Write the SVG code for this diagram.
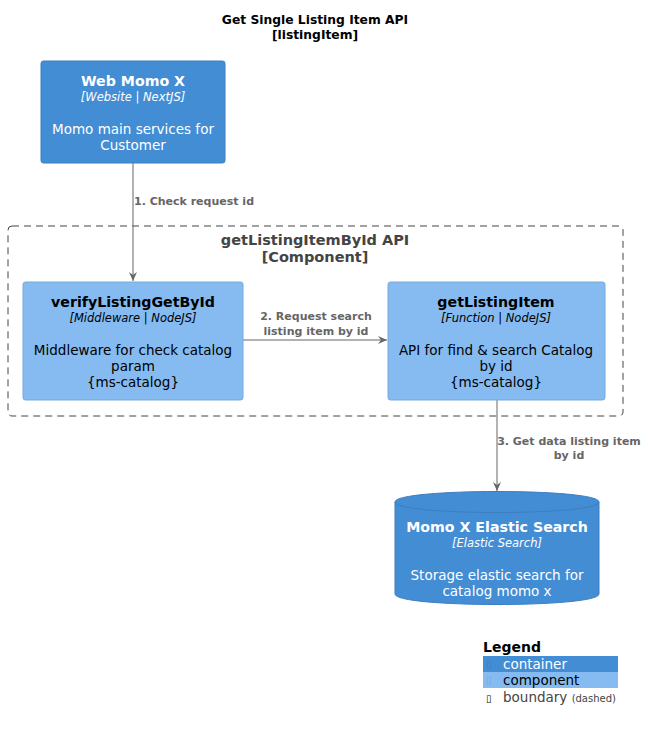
<svg xmlns="http://www.w3.org/2000/svg" width="648" height="730" viewBox="0 0 648 730">
<style>
text{font-family:"DejaVu Sans","Liberation Sans",sans-serif;text-anchor:middle}
.ttl{font-size:12.3px;font-weight:bold;fill:#000}
.nt{font-size:14.2px;font-weight:bold}
.st{font-size:11.5px;font-style:italic}
.ds{font-size:13.5px}
.w{fill:#fff}
.k{fill:#000}
.lbl{font-size:11px;font-weight:bold;fill:#666}
.bl{font-size:14.5px;font-weight:bold;fill:#444}
.cont{fill:#438DD5;stroke:#3C7FC0;stroke-width:1}
.comp{fill:#85BBF0;stroke:#78A8D8;stroke-width:1}
.edge{stroke:#666;stroke-width:1;fill:none}
.lg{font-size:13.5px;text-anchor:start}
.gl{font-size:10px;text-anchor:start}
</style>
<defs>
<marker id="ah" markerWidth="10" markerHeight="10" refX="9" refY="5" orient="auto" markerUnits="userSpaceOnUse">
<path d="M0,1 L9,5 L0,9 L3,5 Z" fill="#666"/>
</marker>
</defs>
<rect width="648" height="730" fill="#fff"/>
<g id="title">
<text class="ttl" x="315" y="24">Get Single Listing Item API</text>
<text class="ttl" x="315" y="39">[listingItem]</text>
</g>
<g id="boundary">
<rect x="8" y="226" width="615" height="190" rx="4" fill="none" stroke="#444" stroke-width="1" stroke-dasharray="7,5"/>
<text class="bl" x="315" y="245">getListingItemById API</text>
<text class="bl" x="315" y="262">[Component]</text>
</g>
<g id="connectors">
<line class="edge" x1="133" y1="163" x2="133" y2="281" marker-end="url(#ah)"/>
<text class="lbl" x="194" y="205">1. Check request id</text>
<line class="edge" x1="243" y1="340" x2="387" y2="340" marker-end="url(#ah)"/>
<text class="lbl" x="316" y="320">2. Request search</text>
<text class="lbl" x="316" y="335">listing item by id</text>
<line class="edge" x1="497" y1="400" x2="497" y2="491" marker-end="url(#ah)"/>
<text class="lbl" x="569" y="445">3. Get data listing item</text>
<text class="lbl" x="569" y="459">by id</text>
</g>
<g id="web-momo-x">
<rect class="cont" x="41" y="61" width="184" height="102" rx="2.5"/>
<text class="nt w" x="133" y="86">Web Momo X</text>
<text class="st w" x="133" y="101">[Website | NextJS]</text>
<text class="ds w" x="133" y="134">Momo main services for</text>
<text class="ds w" x="133" y="150">Customer</text>
</g>
<g id="verifyListingGetById">
<rect class="comp" x="23" y="282" width="220" height="118" rx="2.5"/>
<text class="nt k" x="133" y="307">verifyListingGetById</text>
<text class="st k" x="133" y="322">[Middleware | NodeJS]</text>
<text class="ds k" x="133" y="355">Middleware for check catalog</text>
<text class="ds k" x="133" y="371">param</text>
<text class="ds k" x="133" y="387">{ms-catalog}</text>
</g>
<g id="getListingItem">
<rect class="comp" x="388" y="282" width="217" height="118" rx="2.5"/>
<text class="nt k" x="496" y="307">getListingItem</text>
<text class="st k" x="496" y="322">[Function | NodeJS]</text>
<text class="ds k" x="496" y="355">API for find &amp; search Catalog</text>
<text class="ds k" x="496" y="371">by id</text>
<text class="ds k" x="496" y="387">{ms-catalog}</text>
</g>
<g id="elastic-search">
<path class="cont" d="M395,502 C395,488 599,488 599,502 L599,594 C599,608 395,608 395,594 Z"/>
<path d="M395,502 C395,516 599,516 599,502" fill="none" stroke="#3C7FC0" stroke-width="1"/>
<text class="nt w" x="497" y="532">Momo X Elastic Search</text>
<text class="st w" x="497" y="547">[Elastic Search]</text>
<text class="ds w" x="497" y="580">Storage elastic search for</text>
<text class="ds w" x="497" y="596">catalog momo x</text>
</g>
<g id="legend">
<text x="483" y="652" style="font-size:14px;font-weight:bold;text-anchor:start">Legend</text>
<rect x="483" y="656" width="135" height="16" fill="#438DD5"/>
<rect x="483" y="672" width="135" height="16" fill="#85BBF0"/>
<text class="gl" x="486" y="668" fill="#3C7FC0">▯</text>
<text class="lg" x="503" y="669" fill="#fff">container</text>
<text class="gl" x="486" y="684" fill="#78A8D8">▯</text>
<text class="lg" x="503" y="685" fill="#000">component</text>
<text class="gl" x="486" y="702" fill="#000">▯</text>
<text class="lg" x="503" y="702" fill="#444">boundary <tspan style="font-size:10px">(dashed)</tspan></text>
</g>
</svg>
